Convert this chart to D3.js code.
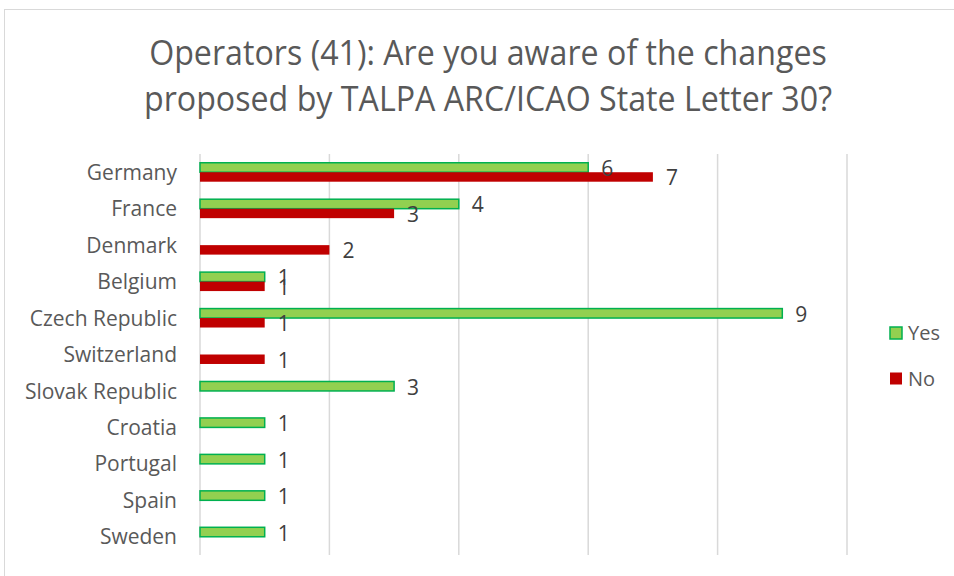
<!DOCTYPE html>
<html>
<head>
<meta charset="utf-8">
<script src="https://cdn.jsdelivr.net/npm/d3@7"></script>
<style>
  body { margin: 0; background: #fff; }
  svg { display: block; font-family: "Open Sans", sans-serif; }
</style>
</head>
<body>
<div class="container"></div>
<script>
var countries = ["Germany", "France", "Denmark", "Belgium", "Czech Republic", "Switzerland",
                 "Slovak Republic", "Croatia", "Portugal", "Spain", "Sweden"];
var yesValues = [6, 4, 0, 1, 9, 0, 3, 1, 1, 1, 1];
var noValues  = [7, 3, 2, 1, 1, 1, 0, 0, 0, 0, 0];
var seriesNames = ["Yes", "No"];
var xTicks = [0, 2, 4, 6, 8, 10];

var w = 954, h = 576;
var colors = { Yes: "#92D050", No: "#C00000" };

var svg = d3.select(".container")
    .append("svg")
    .attr("width", w)
    .attr("height", h);

// chart frame
svg.append("rect")
    .attr("x", 4.5).attr("y", 9.5)
    .attr("width", 980).attr("height", 600)
    .attr("fill", "none")
    .attr("stroke", "#d9d9d9")
    .attr("stroke-width", 1);

// title (squeezed a bit, the original font is narrower)
var title = svg.append("g")
    .attr("transform", "translate(488,0) scale(0.92,1)")
    .append("text")
    .attr("text-anchor", "middle")
    .attr("fill", "#595959")
    .style("font-size", "35px");
title.append("tspan").attr("x", 0).attr("y", 65).text("Operators (41): Are you aware of the changes");
title.append("tspan").attr("x", 0).attr("y", 111).text("proposed by TALPA ARC/ICAO State Letter 30?");

var x = d3.scaleLinear()
    .domain([0, 10])
    .range([200, 847]);

var y = d3.scaleBand()
    .domain(countries)
    .range([154, 555])
    .paddingInner(0.48)
    .paddingOuter(0.24);

var ySub = d3.scaleBand()
    .domain(seriesNames)
    .range([0, y.bandwidth()]);

// gridlines
svg.append("g")
    .selectAll("line")
    .data(xTicks)
    .enter()
    .append("line")
    .attr("x1", function(d) { return x(d); })
    .attr("x2", function(d) { return x(d); })
    .attr("y1", 154)
    .attr("y2", 555)
    .attr("stroke", "#d9d9d9")
    .attr("stroke-width", 1.5);

// category axis
var yAxis = d3.axisLeft(y).tickSize(0).tickPadding(23);
var yAxisGroup = svg.append("g")
    .attr("transform", "translate(200,0)")
    .call(yAxis);
yAxisGroup.select(".domain").remove();
yAxisGroup.selectAll("text")
    .attr("fill", "#595959")
    .attr("dy", "0.36em")
    .style("font-family", "'Open Sans', sans-serif")
    .style("font-size", "21px");

var rows = [];
countries.forEach(function(c, i) {
    rows.push({ country: c, series: "Yes", value: yesValues[i] });
    rows.push({ country: c, series: "No", value: noValues[i] });
});
var shown = rows.filter(function(d) { return d.value > 0; });

svg.append("g")
    .selectAll("rect")
    .data(shown)
    .enter()
    .append("rect")
    .attr("x", function(d) { return x(0); })
    .attr("y", function(d) { return y(d.country) + ySub(d.series); })
    .attr("width", function(d) { return x(d.value) - x(0); })
    .attr("height", ySub.bandwidth())
    .attr("fill", function(d) { return colors[d.series]; })
    .attr("stroke", function(d) { return d.series === "Yes" ? "#00B050" : "none"; })
    .attr("stroke-width", 1.5);

// data labels
svg.append("g")
    .selectAll("text")
    .data(shown)
    .enter()
    .append("text")
    .attr("x", function(d) { return x(d.value) + 13; })
    .attr("y", function(d) { return y(d.country) + ySub(d.series) + ySub.bandwidth() / 2 + 8.5; })
    .attr("fill", "#404040")
    .style("font-size", "21px")
    .text(function(d) { return d.value; });

// legend
var legend = svg.append("g")
    .selectAll("g")
    .data(seriesNames)
    .enter()
    .append("g")
    .attr("transform", function(d, i) { return "translate(890," + (327 + i * 45.5) + ")"; });

legend.append("rect")
    .attr("width", 12)
    .attr("height", 12)
    .attr("fill", function(d) { return colors[d]; })
    .attr("stroke", function(d) { return d === "Yes" ? "#00B050" : "none"; })
    .attr("stroke-width", 1.5);

legend.append("text")
    .attr("x", 18)
    .attr("y", 13)
    .attr("fill", "#595959")
    .style("font-size", "20px")
    .text(function(d) { return d; });
</script>
</body>
</html>
